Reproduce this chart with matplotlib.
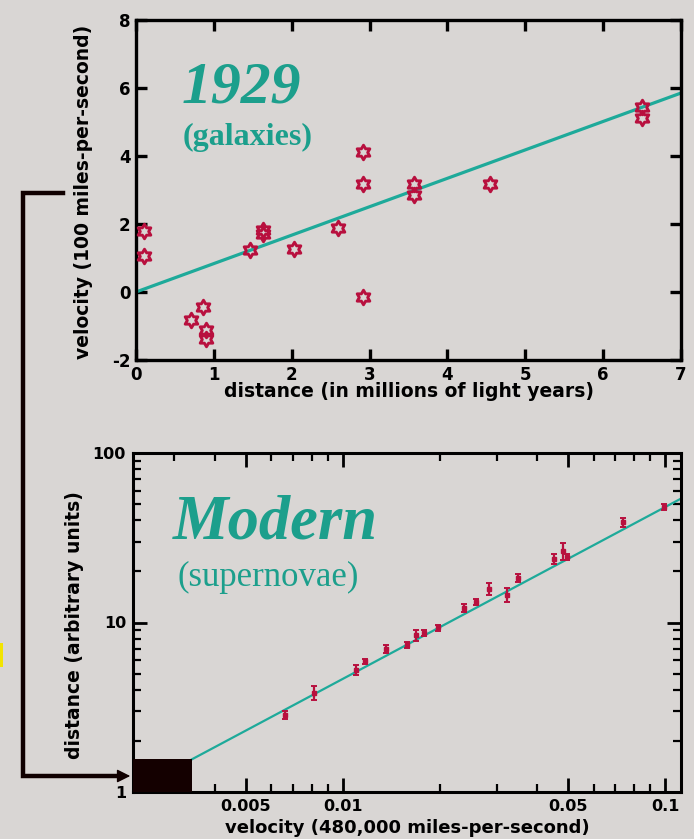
import matplotlib.pyplot as plt
import numpy as np
from matplotlib.path import Path
from matplotlib.patches import Rectangle, FancyArrowPatch
from matplotlib.lines import Line2D
from matplotlib.ticker import FixedLocator, FixedFormatter, NullFormatter

# 1929 galaxies: distance (millions of light years), velocity (100 miles/s)
gal_dist = [0.10, 0.10, 0.70, 0.86, 0.90, 0.90, 1.46, 1.63, 1.63, 2.03,
            2.60, 2.92, 2.92, 2.92, 3.57, 3.57, 4.55, 6.50, 6.50]
gal_vel = [1.80, 1.07, -0.82, -0.44, -1.12, -1.37, 1.25, 1.82, 1.70, 1.26,
           1.88, 4.13, 3.18, -0.15, 3.18, 2.85, 3.18, 5.45, 5.13]
hubble_slope = 0.836
gal_xmax = 7

# modern supernovae: velocity (480,000 miles/s), distance (arbitrary units)
sn_vel = [0.0066, 0.00813, 0.01097, 0.0117, 0.0136, 0.0158, 0.01686, 0.01786,
          0.01972, 0.02377, 0.02588, 0.0284, 0.0323, 0.0349, 0.0452, 0.0482,
          0.0497, 0.0741, 0.0993]
sn_dist = [2.86, 3.85, 5.24, 5.91, 6.95, 7.33, 8.4, 8.63, 9.35, 12.2, 13.3,
           15.8, 14.6, 18.3, 23.7, 26.4, 24.3, 39.0, 48.3]
sn_err = [0.16, 0.38, 0.36, 0.2, 0.38, 0.3, 0.58, 0.35, 0.38, 0.65, 0.55,
          1.3, 1.45, 1.0, 1.6, 3.0, 1.0, 2.6, 2.0]
fit_amp = 494.0
fit_pow = 1.013
# region covered by the 1929 sample
box_v = 0.0034
box_d = 1.56
sn_xlim = (0.00223, 0.1121)

bg = '#d9d6d4'
teal = '#1c9f8c'
line_teal = '#1eaa9a'
crimson = '#b8103e'
W, H = 694, 839

plt.rcParams['font.family'] = 'DejaVu Sans'
plt.rcParams['font.weight'] = 'bold'

fig = plt.figure(figsize=(W / 100, H / 100), dpi=100, facecolor=bg)

def px_axes(l, t, r, b):
    return fig.add_axes([l / W, 1 - b / H, (r - l) / W, (b - t) / H])

# six-pointed star outline
ang = np.pi / 2 + np.arange(12) * np.pi / 6
rad = np.where(np.arange(12) % 2 == 0, 1.0, 1 / np.sqrt(3))
star = Path(np.column_stack([rad * np.cos(ang), rad * np.sin(ang)]).tolist() + [[0, 1]],
            [Path.MOVETO] + [Path.LINETO] * 11 + [Path.CLOSEPOLY])

# ---- top: 1929 ----
ax1 = px_axes(136, 20, 681, 360)
ax1.set_facecolor(bg)
xs = np.array([0, gal_xmax])
ax1.plot(xs, hubble_slope * xs, color=line_teal, lw=2.3, zorder=2)
ax1.plot(gal_dist, gal_vel, ls='none', marker=star, ms=10.5, mfc='none',
         mec=crimson, mew=2.1, zorder=3)
ax1.set_xlim(0, 7)
ax1.set_ylim(-2, 8)
ax1.set_xticks(range(0, 8))
ax1.set_yticks(range(-2, 9, 2))
ax1.set_yticklabels(['-2', '0', '2', '4', '6', '8'])
ax1.tick_params(direction='in', length=8, width=2.4, top=True, right=True,
                labelsize=12, pad=4)
for s in ax1.spines.values():
    s.set_linewidth(2.4)
ax1.text(0.193, 0.756, '1929', transform=ax1.transAxes, ha='center', va='baseline',
         fontsize=43, color=teal, family='Liberation Serif', style='italic', weight='bold')
ax1.text(0.205, 0.656, '(galaxies)', transform=ax1.transAxes, ha='center', va='center',
         fontsize=23, color=teal, family='Liberation Serif', weight='bold')
ax1.text(-0.097, 0.494, 'velocity (100 miles-per-second)', transform=ax1.transAxes,
         rotation=90, ha='center', va='center', fontsize=13.5)
ax1.text(0.5, -0.094, 'distance (in millions of light years)', transform=ax1.transAxes,
         ha='center', va='center', fontsize=13.5)

# ---- bottom: modern supernovae ----
ax2 = px_axes(133, 453, 681, 792)
ax2.set_facecolor(bg)
ax2.set_xscale('log')
ax2.set_yscale('log')
vv = np.geomspace(box_v, sn_xlim[1], 60)
ax2.plot(vv, fit_amp * vv ** fit_pow, color=line_teal, lw=1.6, zorder=2)
ax2.errorbar(sn_vel, sn_dist, yerr=sn_err, fmt='s', ms=3.5, color=crimson,
             ecolor=crimson, elinewidth=1.6, capsize=2.5, capthick=1.4, zorder=3)
ax2.add_patch(Rectangle((sn_xlim[0], 1), box_v - sn_xlim[0], box_d - 1,
                        facecolor='#140000', edgecolor='none', zorder=4, clip_on=False))
ax2.set_xlim(*sn_xlim)
ax2.set_ylim(1, 100)
xmaj = [0.005, 0.01, 0.05, 0.1]
xmin = [0.003, 0.004, 0.006, 0.007, 0.008, 0.009, 0.02, 0.03, 0.04,
        0.06, 0.07, 0.08, 0.09]
ax2.xaxis.set_major_locator(FixedLocator(xmaj))
ax2.xaxis.set_major_formatter(FixedFormatter(['0.005', '0.01', '0.05', '0.1']))
ax2.xaxis.set_minor_locator(FixedLocator(xmin))
ax2.xaxis.set_minor_formatter(NullFormatter())
ax2.yaxis.set_major_locator(FixedLocator([1, 10, 100]))
ax2.yaxis.set_major_formatter(FixedFormatter(['1', '10', '100']))
ax2.yaxis.set_minor_locator(FixedLocator([k * 10 ** e for e in (0, 1) for k in range(2, 10)]))
ax2.yaxis.set_minor_formatter(NullFormatter())
ax2.tick_params(which='both', direction='in', top=True, right=True, labelsize=11.5)
ax2.tick_params(which='major', length=10, width=2.0, pad=5)
ax2.tick_params(which='minor', length=6, width=1.6)
for s in ax2.spines.values():
    s.set_linewidth(2.2)
ax2.text(0.259, 0.749, 'Modern', transform=ax2.transAxes, ha='center', va='baseline',
         fontsize=45, color=teal, family='Liberation Serif', style='italic', weight='bold')
ax2.text(0.246, 0.634, '(supernovae)', transform=ax2.transAxes, ha='center', va='center',
         fontsize=25, color=teal, family='Liberation Serif', weight='normal')
ax2.text(-0.106, 0.493, 'distance (arbitrary units)', transform=ax2.transAxes,
         rotation=90, ha='center', va='center', fontsize=13.5)
ax2.text(0.5, -0.105, 'velocity (480,000 miles-per-second)', transform=ax2.transAxes,
         ha='center', va='center', fontsize=13)

# connector arrow from the 1929 panel to the black box
def fpt(x, y):
    return (x / W, 1 - y / H)

path_x, path_y = zip(*[fpt(63, 193), fpt(23, 193), fpt(23, 776), fpt(118, 776)])
fig.add_artist(Line2D(path_x, path_y, color='#100000', lw=3.2,
                      solid_joinstyle='miter', transform=fig.transFigure))
fig.add_artist(FancyArrowPatch(fpt(110, 776), fpt(133, 776), arrowstyle='-|>',
                               mutation_scale=20, color='#100000', lw=1,
                               transform=fig.transFigure))
fig.add_artist(Rectangle(fpt(0, 667), 3 / W, 24 / H, facecolor='#f2e400',
                         edgecolor='none', transform=fig.transFigure))

fig.savefig('out.png', dpi=100, facecolor=bg)
